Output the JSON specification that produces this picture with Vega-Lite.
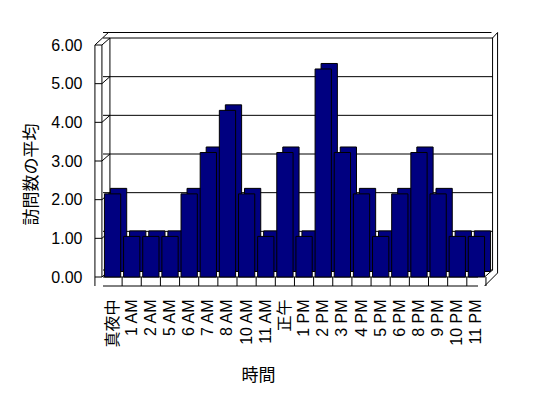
{
  "$schema": "https://vega.github.io/schema/vega-lite/v6.json",
  "width": 383,
  "height": 232,
  "autosize": "none",
  "padding": {"left": 103, "top": 45, "right": 62, "bottom": 121},
  "background": "white",
  "config": {
    "view": {"stroke": null},
    "axis": {
      "labelFont": "Liberation Sans",
      "titleFont": "Noto Sans CJK JP",
      "labelColor": "black",
      "titleColor": "black",
      "domainColor": "black",
      "tickColor": "black",
      "titleFontWeight": "normal"
    }
  },
  "datasets": {
    "visits": [
      {"hour": "真夜中", "avg": 2.15},
      {"hour": "1 AM", "avg": 1.05},
      {"hour": "2 AM", "avg": 1.05},
      {"hour": "5 AM", "avg": 1.05},
      {"hour": "6 AM", "avg": 2.15},
      {"hour": "7 AM", "avg": 3.22},
      {"hour": "8 AM", "avg": 4.31},
      {"hour": "10 AM", "avg": 2.15},
      {"hour": "11 AM", "avg": 1.05},
      {"hour": "正午", "avg": 3.22},
      {"hour": "1 PM", "avg": 1.05},
      {"hour": "2 PM", "avg": 5.38},
      {"hour": "3 PM", "avg": 3.22},
      {"hour": "4 PM", "avg": 2.15},
      {"hour": "5 PM", "avg": 1.05},
      {"hour": "6 PM", "avg": 2.15},
      {"hour": "8 PM", "avg": 3.22},
      {"hour": "9 PM", "avg": 2.15},
      {"hour": "10 PM", "avg": 1.05},
      {"hour": "11 PM", "avg": 1.05}
    ],
    "grid": [{"v": 0}, {"v": 1}, {"v": 2}, {"v": 3}, {"v": 4}, {"v": 5}, {"v": 6}],
    "frame": [{"first": "真夜中", "last": "11 PM", "lo": 0, "hi": 6, "hours": ["真夜中", "1 AM", "2 AM", "5 AM", "6 AM", "7 AM", "8 AM", "10 AM", "11 AM", "正午", "1 PM", "2 PM", "3 PM", "4 PM", "5 PM", "6 PM", "8 PM", "9 PM", "10 PM", "11 PM"]}]
  },
  "layer": [
    {
      "data": {"name": "visits"},
      "mark": {"type": "bar", "color": "#000080", "opacity": 0},
      "encoding": {
        "x": {
          "field": "hour",
          "type": "nominal",
          "sort": null,
          "scale": {
            "type": "band",
            "domain": ["真夜中", "1 AM", "2 AM", "5 AM", "6 AM", "7 AM", "8 AM", "10 AM", "11 AM", "正午", "1 PM", "2 PM", "3 PM", "4 PM", "5 PM", "6 PM", "8 PM", "9 PM", "10 PM", "11 PM"],
            "paddingInner": 0.15,
            "paddingOuter": 0.075
          },
          "axis": {
            "title": "時間",
            "titleFontSize": 17,
            "titleX": 155,
            "titleY": 98,
            "titleBaseline": "middle",
            "titleAlign": "center",
            "labelAngle": -90,
            "labelFont": "Liberation Sans, Noto Sans CJK JP",
            "labelFontSize": 16,
            "labelPadding": 22,
            "labelOverlap": false,
            "ticks": false,
            "domain": false,
            "grid": false
          }
        },
        "y": {
          "field": "avg",
          "type": "quantitative",
          "scale": {"domain": [0, 6], "nice": false, "zero": true},
          "axis": {
            "title": "訪問数の平均",
            "titleFontSize": 17,
            "titleX": -72,
            "titleY": 129,
            "titleBaseline": "middle",
            "titleAlign": "center",
            "values": [0, 1, 2, 3, 4, 5, 6],
            "tickCount": 7,
            "labelOverlap": false,
            "format": ".2f",
            "labelFontSize": 16,
            "labelPadding": 21,
            "ticks": false,
            "domain": false,
            "grid": false
          }
        }
      }
    },
    {
      "data": {"name": "grid"},
      "mark": {"type": "rule", "color": "black", "strokeWidth": 1, "xOffset": 7, "x2Offset": 8, "yOffset": -7, "y2Offset": -7},
      "encoding": {"y": {"field": "v", "type": "quantitative"}}
    },
    {
      "data": {"name": "grid"},
      "mark": {"type": "rule", "color": "black", "strokeWidth": 1, "xOffset": -9.5, "x2Offset": -2.5},
      "encoding": {
        "x": {"datum": "真夜中", "bandPosition": 0},
        "x2": {"datum": "真夜中", "bandPosition": 0},
        "y": {"field": "v", "type": "quantitative"},
        "y2": {"field": "v"}
      }
    },
    {
      "data": {"name": "grid"},
      "mark": {"type": "rule", "color": "black", "strokeWidth": 1, "xOffset": -2.5, "x2Offset": 5.5, "y2Offset": -7},
      "encoding": {
        "x": {"datum": "真夜中", "bandPosition": 0},
        "x2": {"datum": "真夜中", "bandPosition": 0},
        "y": {"field": "v", "type": "quantitative"},
        "y2": {"field": "v"}
      }
    },
    {
      "data": {"name": "frame"},
      "mark": {"type": "rule", "color": "black", "strokeWidth": 1, "xOffset": -9.5, "x2Offset": 4, "y2Offset": -12.5},
      "encoding": {
        "x": {"field": "first", "type": "nominal", "bandPosition": 0},
        "x2": {"field": "first", "bandPosition": 0},
        "y": {"field": "hi", "type": "quantitative"},
        "y2": {"field": "hi"}
      }
    },
    {
      "data": {"name": "frame"},
      "mark": {"type": "rule", "color": "black", "strokeWidth": 1, "xOffset": 5.5, "x2Offset": 13, "yOffset": -12.5},
      "encoding": {"y": {"field": "hi", "type": "quantitative"}}
    },
    {
      "data": {"name": "frame"},
      "mark": {"type": "rule", "color": "black", "strokeWidth": 1, "xOffset": -9.5, "y2Offset": 9},
      "encoding": {
        "x": {"field": "first", "type": "nominal", "bandPosition": 0},
        "y": {"field": "hi", "type": "quantitative"},
        "y2": {"field": "lo"}
      }
    },
    {
      "data": {"name": "frame"},
      "mark": {"type": "rule", "color": "black", "strokeWidth": 1, "xOffset": -2.5},
      "encoding": {
        "x": {"field": "first", "type": "nominal", "bandPosition": 0},
        "y": {"field": "hi", "type": "quantitative"},
        "y2": {"field": "lo"}
      }
    },
    {
      "data": {"name": "frame"},
      "mark": {"type": "rule", "color": "black", "strokeWidth": 1, "xOffset": 5.5, "yOffset": -7, "y2Offset": -7},
      "encoding": {
        "x": {"field": "first", "type": "nominal", "bandPosition": 0},
        "y": {"field": "hi", "type": "quantitative"},
        "y2": {"field": "lo"}
      }
    },
    {
      "data": {"name": "frame"},
      "mark": {"type": "rule", "color": "black", "strokeWidth": 1, "xOffset": 8, "yOffset": -7, "y2Offset": -7},
      "encoding": {
        "x": {"field": "last", "type": "nominal", "bandPosition": 1},
        "y": {"field": "hi", "type": "quantitative"},
        "y2": {"field": "lo"}
      }
    },
    {
      "data": {"name": "frame"},
      "mark": {"type": "rule", "color": "black", "strokeWidth": 1, "xOffset": 13, "yOffset": -12.5, "y2Offset": -4},
      "encoding": {
        "x": {"field": "last", "type": "nominal", "bandPosition": 1},
        "y": {"field": "hi", "type": "quantitative"},
        "y2": {"field": "lo"}
      }
    },
    {
      "data": {"name": "frame"},
      "mark": {"type": "rule", "color": "black", "strokeWidth": 1, "xOffset": 8, "x2Offset": 13, "yOffset": -7, "y2Offset": -12.5},
      "encoding": {
        "x": {"field": "last", "type": "nominal", "bandPosition": 1},
        "x2": {"field": "last", "bandPosition": 1},
        "y": {"field": "hi", "type": "quantitative"},
        "y2": {"field": "hi"}
      }
    },
    {
      "data": {"name": "frame"},
      "mark": {"type": "rule", "color": "black", "strokeWidth": 1, "x2Offset": 8, "y2Offset": -7},
      "encoding": {
        "x": {"field": "last", "type": "nominal", "bandPosition": 1},
        "x2": {"field": "last", "bandPosition": 1},
        "y": {"field": "lo", "type": "quantitative"},
        "y2": {"field": "lo"}
      }
    },
    {
      "data": {"name": "frame"},
      "mark": {"type": "rule", "color": "black", "strokeWidth": 1, "yOffset": 9, "x2Offset": 13, "y2Offset": -4},
      "encoding": {
        "x": {"field": "last", "type": "nominal", "bandPosition": 1},
        "x2": {"field": "last", "bandPosition": 1},
        "y": {"field": "lo", "type": "quantitative"},
        "y2": {"field": "lo"}
      }
    },
    {
      "data": {"name": "frame"},
      "mark": {"type": "rule", "color": "black", "strokeWidth": 1, "xOffset": -8, "yOffset": 9},
      "encoding": {"y": {"field": "lo", "type": "quantitative"}}
    },
    {
      "data": {"name": "frame"},
      "mark": {"type": "rule", "color": "black", "strokeWidth": 1, "xOffset": -8},
      "encoding": {"y": {"field": "lo", "type": "quantitative"}}
    },
    {
      "data": {"name": "frame"},
      "transform": [{"flatten": ["hours"]}],
      "mark": {"type": "rule", "color": "black", "strokeWidth": 1, "xOffset": 1.4, "x2Offset": 1.4, "y2Offset": 9},
      "encoding": {
        "x": {"field": "hours", "type": "nominal", "sort": null, "bandPosition": 1},
        "y": {"field": "lo", "type": "quantitative"},
        "y2": {"field": "lo"}
      }
    },
    {
      "data": {"name": "visits"},
      "mark": {"type": "bar", "color": "#000080", "stroke": "black", "strokeWidth": 1, "xOffset": 6, "x2Offset": 6, "yOffset": -5.5, "y2Offset": -5.5},
      "encoding": {
        "x": {"field": "hour", "type": "nominal", "sort": null},
        "y": {"field": "avg", "type": "quantitative"}
      }
    },
    {
      "data": {"name": "visits"},
      "mark": {"type": "bar", "color": "#000080", "stroke": "black", "strokeWidth": 1},
      "encoding": {
        "x": {"field": "hour", "type": "nominal", "sort": null},
        "y": {"field": "avg", "type": "quantitative"}
      }
    }
  ]
}
